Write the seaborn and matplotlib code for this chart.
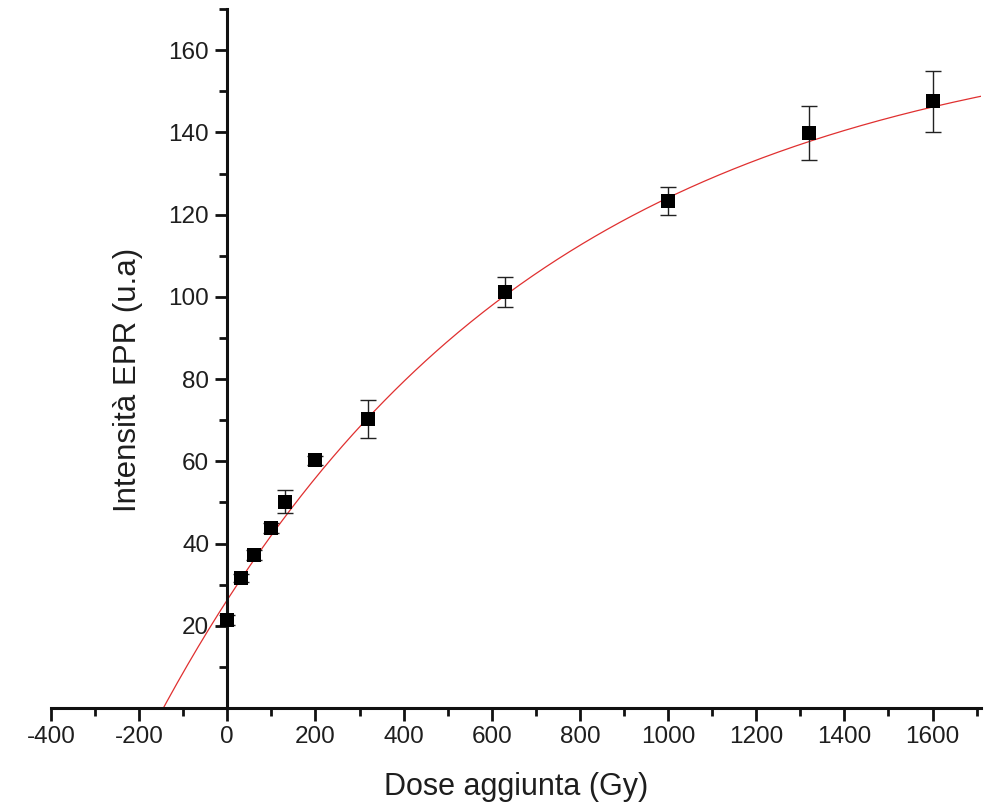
import numpy as np
import pandas as pd
import matplotlib
matplotlib.use("Agg")
import matplotlib.pyplot as plt
from matplotlib.ticker import MultipleLocator, FixedLocator
import seaborn as sns

# Added dose (Gy) and measured EPR intensity (a.u.) with uncertainties
dose = [0, 30, 60, 100, 130, 200, 320, 630, 1000, 1320, 1600]
intensity = [21.5, 31.6, 37.3, 43.7, 50.2, 60.2, 70.2, 101.2, 123.2, 139.8, 147.6]
error = [1.2, 1.0, 1.2, 1.2, 2.8, 1.0, 4.6, 3.7, 3.4, 6.5, 7.4]

# Saturating-exponential fit: I(D) = y0 + a * (1 - exp(-D / tau))
fit_y0 = 26.3
fit_a = 141.4
fit_tau = 850.0
fit_range = (-160, 1710)

x_major = [-400, -200, 0, 200, 400, 600, 800, 1000, 1200, 1400, 1600]
y_major = [20, 40, 60, 80, 100, 120, 140, 160]

df = pd.DataFrame({"dose": dose, "intensity": intensity, "error": error})
xf = np.linspace(fit_range[0], fit_range[1], 400)
fit_df = pd.DataFrame({"dose": xf,
                       "intensity": fit_y0 + fit_a * (1 - np.exp(-xf / fit_tau))})

sns.set_theme(style="white")
plt.rcParams["font.family"] = ["Liberation Sans", "DejaVu Sans"]

fig = plt.figure(figsize=(9.9, 8.08), dpi=100)
ax = fig.add_axes([0.0515, 0.1238, 0.9394, 0.865])

text_color = "#1e1e1e"

sns.lineplot(data=fit_df, x="dose", y="intensity", ax=ax, color="#e03030",
             linewidth=0.9, zorder=2)
ax.errorbar(df["dose"], df["intensity"], yerr=df["error"], fmt="none",
            ecolor="#222222", elinewidth=1.0, capsize=5.5, capthick=1.0, zorder=3)
sns.scatterplot(data=df, x="dose", y="intensity", ax=ax, marker="s", s=95,
                color="black", edgecolor="black", linewidth=0, zorder=4)

ax.set_xlim(-400, 1710)
ax.set_ylim(0, 170)

for side in ("top", "right"):
    ax.spines[side].set_visible(False)
ax.spines["left"].set_position(("data", 0))
for side in ("left", "bottom"):
    ax.spines[side].set_linewidth(2.2)
    ax.spines[side].set_color("#111111")

ax.xaxis.set_major_locator(FixedLocator(x_major))
ax.xaxis.set_minor_locator(MultipleLocator(100))
ax.yaxis.set_major_locator(FixedLocator(y_major))
ax.yaxis.set_minor_locator(MultipleLocator(10))
ax.set_xticklabels([str(v) for v in x_major])
ax.set_yticklabels([str(v) for v in y_major])

ax.tick_params(axis="both", which="major", direction="out", length=9, width=2.0,
               color="#111111", labelsize=17.5, labelcolor=text_color, pad=4)
ax.tick_params(axis="both", which="minor", direction="out", length=5.5, width=2.0,
               color="#111111")
ax.tick_params(axis="y", which="both", left=True, right=False)
ax.tick_params(axis="x", which="both", bottom=True, top=False)

ax.set_xlabel("Dose aggiunta (Gy)", fontsize=22, color=text_color)
ax.set_ylabel("Intensità EPR (u.a)", fontsize=22.5, color=text_color)
ax.xaxis.set_label_coords(0.5, -0.113)
ax.xaxis.label.set_verticalalignment("center")
ax.yaxis.set_label_coords(0.083, 0.47)
ax.yaxis.label.set_verticalalignment("center")
ax.yaxis.label.set_horizontalalignment("center")

ax.grid(False)
fig.savefig("out.png", dpi=100, facecolor="white")
